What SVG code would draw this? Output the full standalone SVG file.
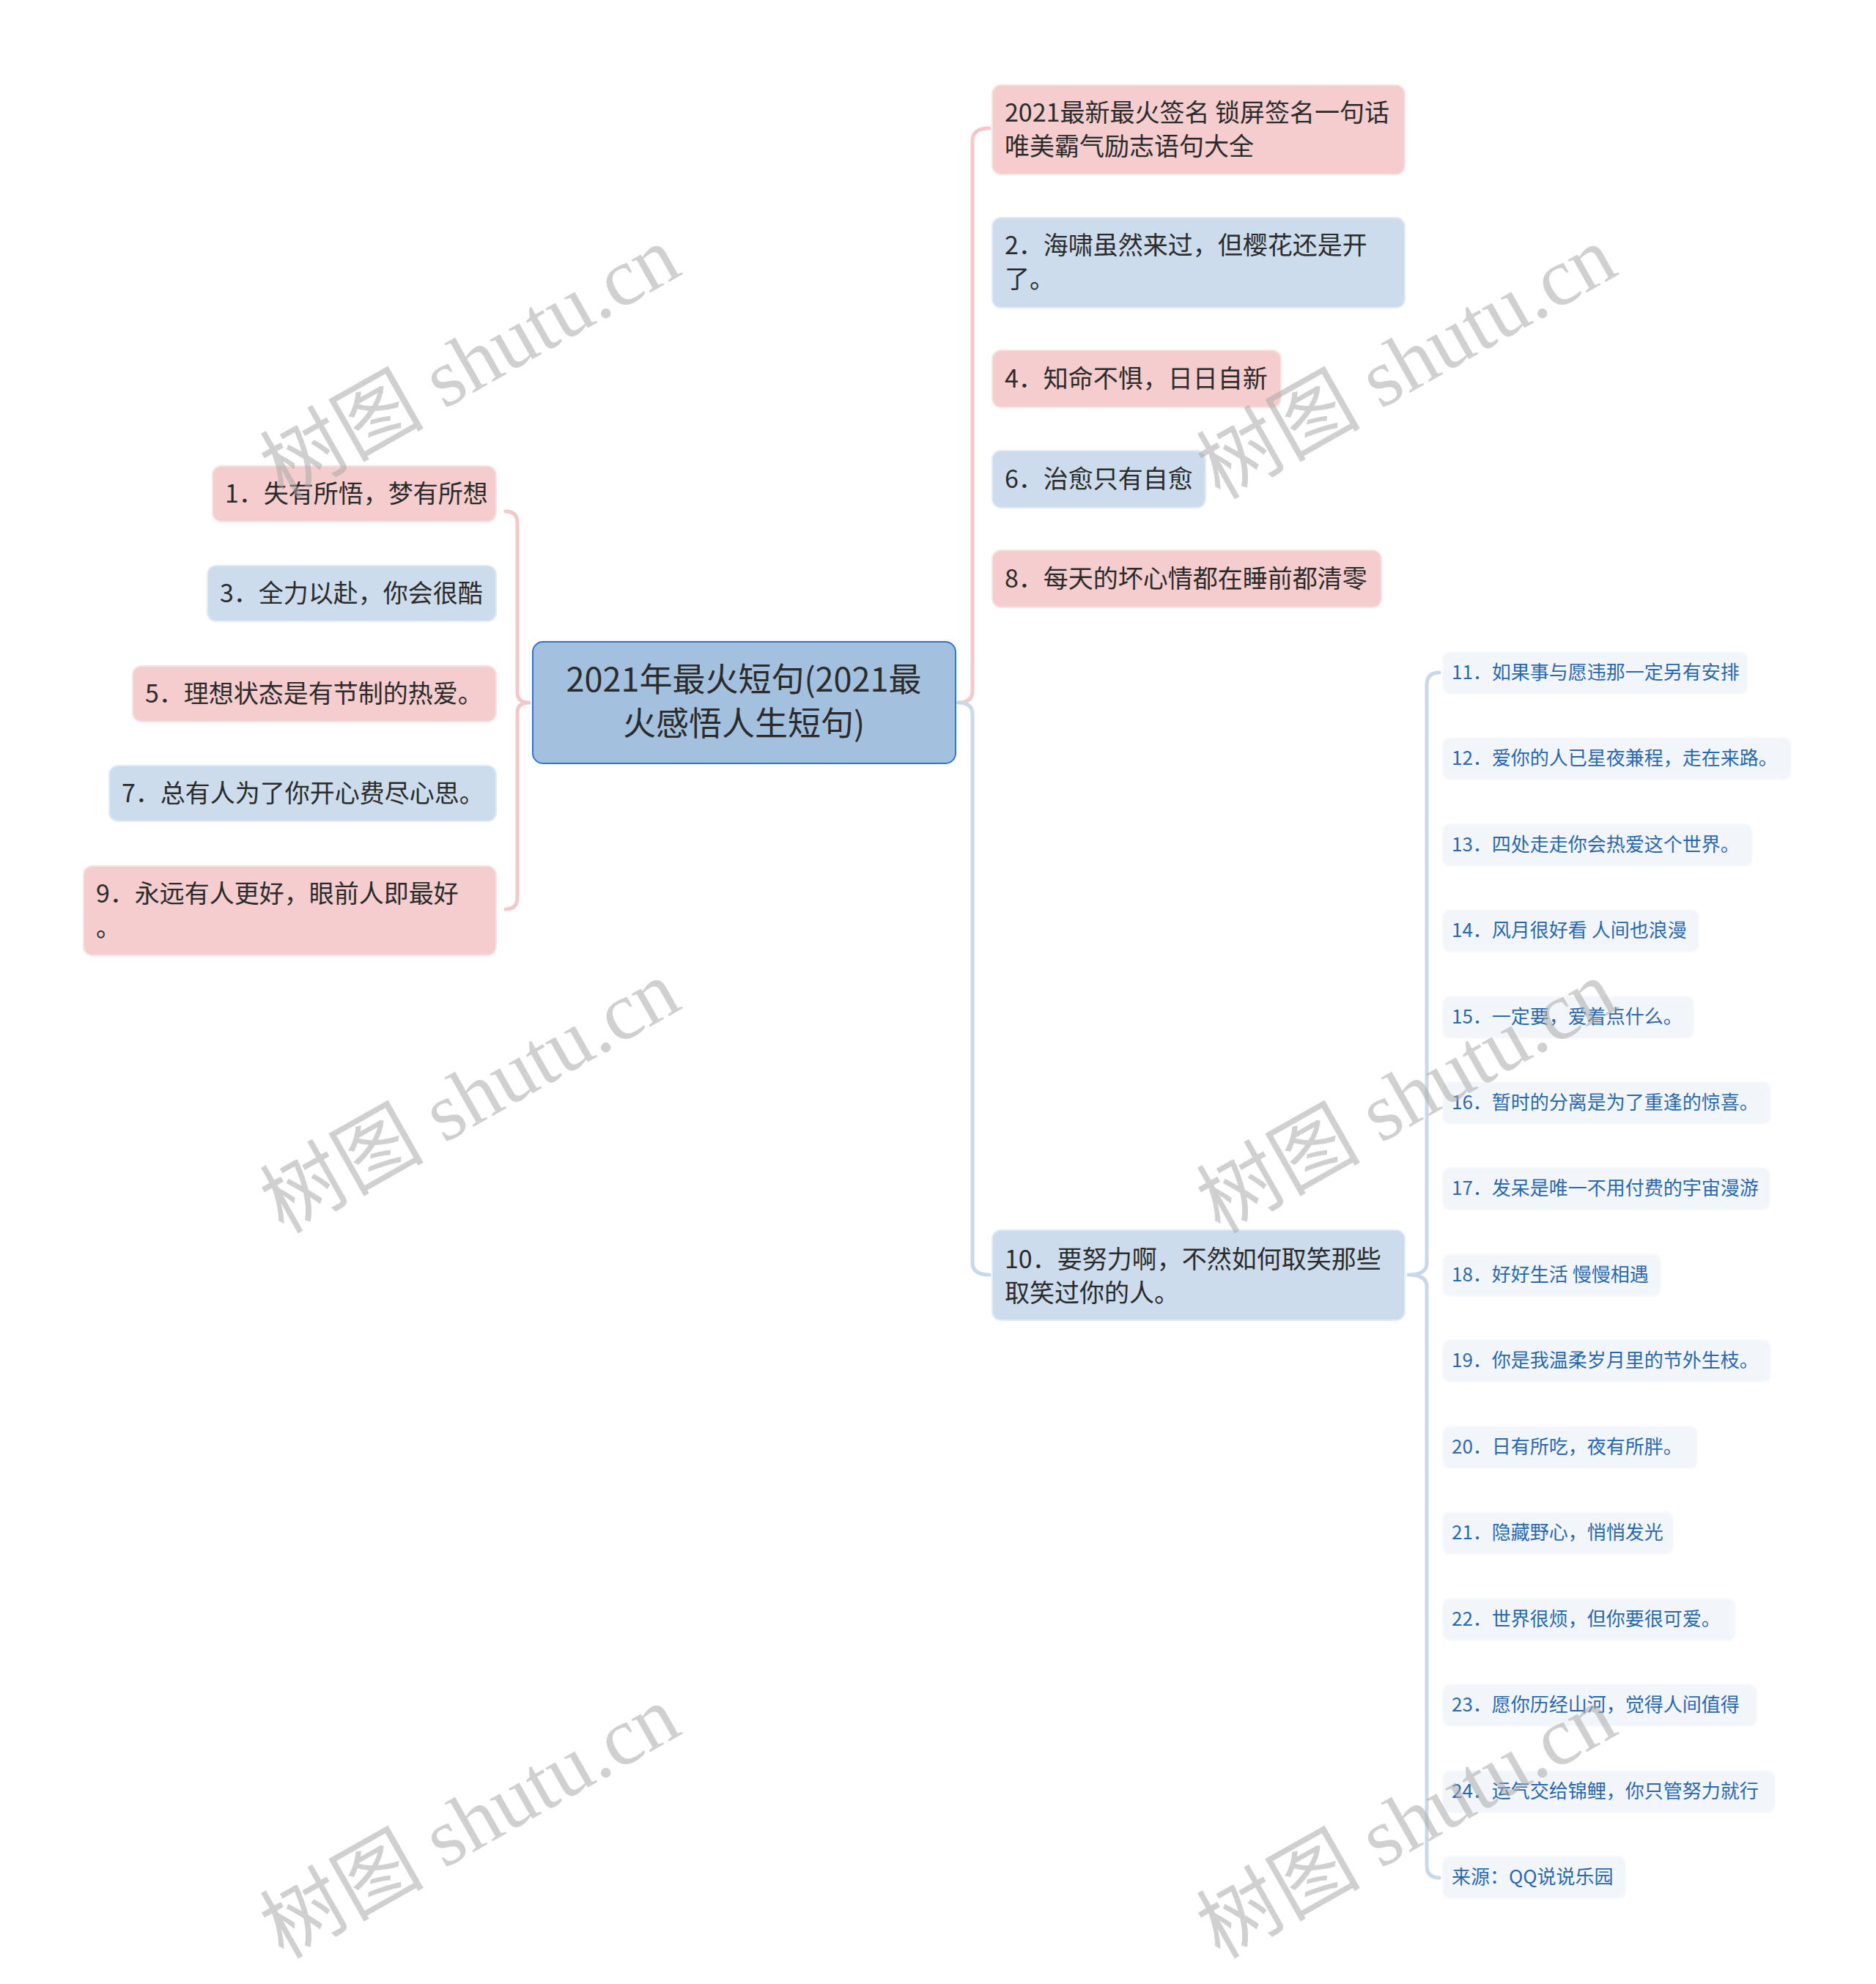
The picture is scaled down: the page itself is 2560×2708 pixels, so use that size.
<svg xmlns="http://www.w3.org/2000/svg" width="2560" height="2708" viewBox="0 0 2560 2708">
<style>
text{font-family:"Noto Sans CJK SC","Noto Sans",sans-serif;}
.pk{fill:#f5cdcf;stroke:#fae3e4;stroke-width:2}
.bl{fill:#ccdcec;stroke:#e2ebf5;stroke-width:2}
.l2{fill:#f2f6fb;stroke:#f7f9fc;stroke-width:2}
.t1{font-size:34px;fill:#2b2b2b}
.t2{font-size:26px;fill:#2a68ad}
.ct{font-size:45px;fill:#2b2b2b;text-anchor:middle}
.cp{fill:none;stroke:#f3c8ca;stroke-width:5;stroke-linecap:round}
.cb{fill:none;stroke:#c9d9ea;stroke-width:5;stroke-linecap:round}
.wm{font-family:"Liberation Serif","Noto Sans CJK SC",serif;font-size:112px;fill:#aaaaaa;fill-opacity:0.55;text-anchor:middle}
</style>
<rect width="2560" height="2708" fill="#ffffff"/>
<g id="connectors">
<path class="cp" d="M690,698 Q706,698 706,714 L706,945 Q706,959 722,959 M722,959 Q706,959 706,973 L706,1225 Q706,1241 690,1241"/>
<path class="cp" d="M1350,175 Q1327,175 1327,192 L1327,943 Q1327,959 1308,959"/>
<path class="cb" d="M1308,959 Q1327,959 1327,975 L1327,1723 Q1327,1740 1350,1740"/>
<path class="cb" d="M1964,918 Q1947,918 1947,935 L1947,1724 Q1947,1740 1922,1740 M1922,1740 Q1947,1740 1947,1756 L1947,2546 Q1947,2563 1964,2563"/>
</g>
<g id="central">
<rect x="727" y="876" width="577" height="166" rx="14" fill="#a3c1de" stroke="#3273cf" stroke-width="2"/>
<text class="ct" x="1015" y="944">2021年最火短句(2021最</text>
<text class="ct" x="1015" y="1004">火感悟人生短句)</text>
</g>
<g id="r1"><rect class="pk" x="1354" y="116" width="563" height="122" rx="12"/><text class="t1" x="1371" y="166">2021最新最火签名 锁屏签名一句话</text><text class="t1" x="1371" y="212">唯美霸气励志语句大全</text></g>
<g id="r2"><rect class="bl" x="1354" y="297" width="563" height="123" rx="12"/><text class="t1" x="1371" y="347">2．海啸虽然来过，但樱花还是开</text><text class="t1" x="1371" y="393">了。</text></g>
<g id="r4"><rect class="pk" x="1354" y="478" width="394" height="78" rx="12"/><text class="t1" x="1371" y="529">4．知命不惧，日日自新</text></g>
<g id="r6"><rect class="bl" x="1354" y="615" width="291" height="78" rx="12"/><text class="t1" x="1371" y="666">6．治愈只有自愈</text></g>
<g id="r8"><rect class="pk" x="1354" y="751" width="531" height="78" rx="12"/><text class="t1" x="1371" y="802">8．每天的坏心情都在睡前都清零</text></g>
<g id="r10"><rect class="bl" x="1354" y="1679" width="563" height="123" rx="12"/><text class="t1" x="1371" y="1731">10．要努力啊，不然如何取笑那些</text><text class="t1" x="1371" y="1777">取笑过你的人。</text></g>
<g id="l1"><rect class="pk" x="290" y="636" width="387" height="76" rx="12"/><text class="t1" x="307" y="686">1．失有所悟，梦有所想</text></g>
<g id="l3"><rect class="bl" x="283" y="772" width="394" height="76" rx="12"/><text class="t1" x="300" y="822">3．全力以赴，你会很酷</text></g>
<g id="l5"><rect class="pk" x="181" y="909" width="496" height="76" rx="12"/><text class="t1" x="198" y="959">5．理想状态是有节制的热爱。</text></g>
<g id="l7"><rect class="bl" x="149" y="1045" width="528" height="76" rx="12"/><text class="t1" x="166" y="1095">7．总有人为了你开心费尽心思。</text></g>
<g id="l9"><rect class="pk" x="114" y="1182" width="563" height="122" rx="12"/><text class="t1" x="131" y="1232">9．永远有人更好，眼前人即最好</text><text class="t1" x="131" y="1278">。</text></g>
<g id="n11"><rect class="l2" x="1969" y="890" width="416" height="57" rx="10"/><text class="t2" x="1981" y="927">11．如果事与愿违那一定另有安排</text></g>
<g id="n12"><rect class="l2" x="1969" y="1007" width="475" height="57" rx="10"/><text class="t2" x="1981" y="1044">12．爱你的人已星夜兼程，走在来路。</text></g>
<g id="n13"><rect class="l2" x="1969" y="1125" width="422" height="57" rx="10"/><text class="t2" x="1981" y="1162">13．四处走走你会热爱这个世界。</text></g>
<g id="n14"><rect class="l2" x="1969" y="1242" width="349" height="57" rx="10"/><text class="t2" x="1981" y="1279">14．风月很好看 人间也浪漫</text></g>
<g id="n15"><rect class="l2" x="1969" y="1360" width="342" height="57" rx="10"/><text class="t2" x="1981" y="1397">15．一定要，爱着点什么。</text></g>
<g id="n16"><rect class="l2" x="1969" y="1477" width="447" height="57" rx="10"/><text class="t2" x="1981" y="1514">16．暂时的分离是为了重逢的惊喜。</text></g>
<g id="n17"><rect class="l2" x="1969" y="1594" width="446" height="57" rx="10"/><text class="t2" x="1981" y="1631">17．发呆是唯一不用付费的宇宙漫游</text></g>
<g id="n18"><rect class="l2" x="1969" y="1712" width="297" height="57" rx="10"/><text class="t2" x="1981" y="1749">18．好好生活 慢慢相遇</text></g>
<g id="n19"><rect class="l2" x="1969" y="1829" width="447" height="57" rx="10"/><text class="t2" x="1981" y="1866">19．你是我温柔岁月里的节外生枝。</text></g>
<g id="n20"><rect class="l2" x="1969" y="1947" width="347" height="57" rx="10"/><text class="t2" x="1981" y="1984">20．日有所吃，夜有所胖。</text></g>
<g id="n21"><rect class="l2" x="1969" y="2064" width="314" height="57" rx="10"/><text class="t2" x="1981" y="2101">21．隐藏野心，悄悄发光</text></g>
<g id="n22"><rect class="l2" x="1969" y="2182" width="399" height="57" rx="10"/><text class="t2" x="1981" y="2219">22．世界很烦，但你要很可爱。</text></g>
<g id="n23"><rect class="l2" x="1969" y="2299" width="428" height="57" rx="10"/><text class="t2" x="1981" y="2336">23．愿你历经山河，觉得人间值得</text></g>
<g id="n24"><rect class="l2" x="1969" y="2417" width="453" height="57" rx="10"/><text class="t2" x="1981" y="2454">24．运气交给锦鲤，你只管努力就行</text></g>
<g id="n25"><rect class="l2" x="1969" y="2534" width="249" height="57" rx="10"/><text class="t2" x="1981" y="2571">来源：QQ说说乐园</text></g>
<g id="watermarks">
<text class="wm" transform="translate(660,528) rotate(-29.5)">树图 shutu.cn</text>
<text class="wm" transform="translate(1938,528) rotate(-29.5)">树图 shutu.cn</text>
<text class="wm" transform="translate(660,1530) rotate(-29.5)">树图 shutu.cn</text>
<text class="wm" transform="translate(1938,1530) rotate(-29.5)">树图 shutu.cn</text>
<text class="wm" transform="translate(660,2520) rotate(-29.5)">树图 shutu.cn</text>
<text class="wm" transform="translate(1938,2520) rotate(-29.5)">树图 shutu.cn</text>
</g>
</svg>
